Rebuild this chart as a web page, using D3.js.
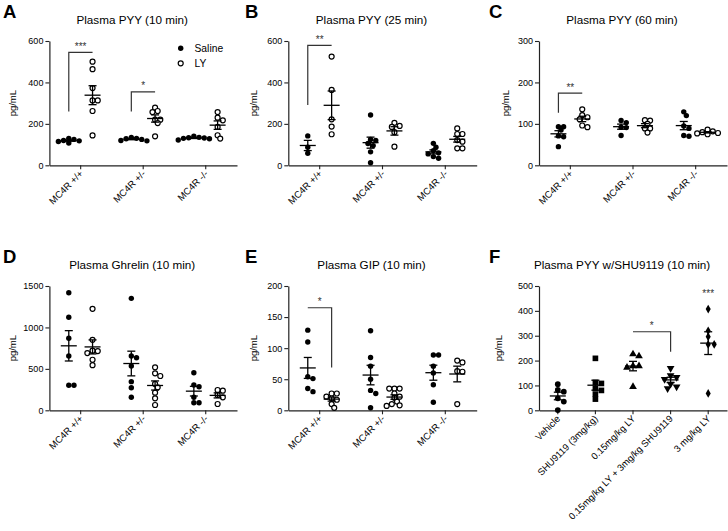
<!DOCTYPE html>
<html><head><meta charset="utf-8">
<script src="https://cdn.jsdelivr.net/npm/d3@7"></script>
<style>body{margin:0;background:#fff}svg{display:block;opacity:0.999}</style>
</head><body><svg id="c" width="728" height="531"></svg>
<script>
// ---------------- data ----------------
const genotypes = ["MC4R +/+", "MC4R +/-", "MC4R -/-"];
const seriesNames = ["Saline", "LY"];

const pyy10Saline = [[108,115,118,125,130,120],[130,128,120,118,125,135],[132,135,140,122,128,130,133]];
const pyy10LY     = [[464,500,373,313,313,262,144],[278,257,262,220,220,204,140],[257,230,217,185,129,145]];

const pyy25Saline = [[142,87,58],[243,125,120,105,95,65,12],[106,87,70,60,55,42,34]];
const pyy25LY     = [[525,364,222,187,150],[205,190,185,160,90],[178,151,151,122,114,82,82]];

const pyy60Saline = [[93,93,85,71,69,45],[108,103,72,92,91],[129,120,95,89,70,72]];
const pyy60LY     = [[135,121,116,111,92,96],[109,108,100,89,89,79],[86,82,78,75,80,77]];

const ghrelinSaline = [[1419,1122,869,655,302,302],[1351,655,635,535,346,273,157],[454,306,285,157,92,92]];
const ghrelinLY     = [[1225,850,720,715,690,610,545],[519,446,414,318,277,213,145,64],[237,245,185,157,76]];

const gipSaline = [[129,110,54,51,35,30],[128,85,71,50,32,27,4],[89,89,71,60,41,13]];
const gipLY     = [[27,27,22,19,17,10,4],[35,35,35,27,22,20,14,10,8,7],[80,77,63,62,10]];

const shuGroups = ["Vehicle", "SHU9119 (3mg/kg)", "0.15mg/kg LY", "0.15mg/kg LY + 3mg/kg SHU9119", "3 mg/kg LY"];
const shuValues = [[105,82,75,48,35,1],[209,112,108,88,80,65,45],[218,226,178,172,178,95],[169,140,133,125,106,95,88],[407,320,296,265,265,68]];

const ticksA = [0,200,400,600];
const ticksB = [0,200,400,600];
const ticksC = [0,100,200,300];
const ticksD = [0,500,1000,1500];
const ticksE = [0,50,100,150,200];
const ticksF = [0,100,200,300,400,500];

// significance brackets: group index, series of leg, leg bottom value, bar value, stars
const bracketsA = [{g:0, leg:"Saline", low:260, high:545, stars:"***"}, {g:1, leg:"Saline", low:260, high:354, stars:"*"}];
const bracketsB = [{g:0, leg:"Saline", low:291, high:579, stars:"**"}];
const bracketsC = [{g:0, leg:"Saline", low:127, high:174, stars:"**"}];
const bracketsE = [{g:0, leg:"LY", low:69, high:165, stars:"*"}];
const bracketsF = [{from:2, to:3, low:236, high:316, stars:"*"}];
const starsF = [{g:4, value:470, stars:"***"}];

// ---------------- drawing ----------------
const svg = d3.select("#c");
const FONT = '"Liberation Sans", Arial, Helvetica, sans-serif';
const INK = "#000";
const AX = "#222";

const panels = [
  {letter:"A", title:"Plasma PYY (10 min)", x0:49.4, x1:237, top:41, bottom:165.3, ticks:ticksA, cats:genotypes, series:[pyy10Saline, pyy10LY], labelX:12, letterX:3, letterY:18, titleY:23.5, legend:true, brackets:bracketsA},
  {letter:"B", title:"Plasma PYY (25 min)", x0:288.3, x1:476.7, top:41, bottom:165.3, ticks:ticksB, cats:genotypes, series:[pyy25Saline, pyy25LY], labelX:253, letterX:245, letterY:18, titleY:23.5, brackets:bracketsB},
  {letter:"C", title:"Plasma PYY (60 min)", x0:539, x1:727, top:41, bottom:165.3, ticks:ticksC, cats:genotypes, series:[pyy60Saline, pyy60LY], labelX:505, letterX:489, letterY:18, titleY:23.5, brackets:bracketsC},
  {letter:"D", title:"Plasma Ghrelin (10 min)", x0:49.4, x1:237, top:286, bottom:410.3, ticks:ticksD, cats:genotypes, series:[ghrelinSaline, ghrelinLY], labelX:12, letterX:3, letterY:263, titleY:268.5, brackets:[]},
  {letter:"E", title:"Plasma GIP (10 min)", x0:288.3, x1:476.7, top:286, bottom:410.3, ticks:ticksE, cats:genotypes, series:[gipSaline, gipLY], labelX:253, letterX:245, letterY:263, titleY:268.5, brackets:bracketsE},
  {letter:"F", title:"Plasma PYY w/SHU9119 (10 min)", x0:539, x1:727, top:286, bottom:410.3, ticks:ticksF, cats:shuGroups, single:shuValues, labelX:498, letterX:489, letterY:263, titleY:268.5, brackets:bracketsF}
];

function swarm(vals, y, cx, r){
  const placed = [];
  const order = vals.map(v => v).sort((a,b) => b - a);
  const step = r * 1.0, minD = 1.6 * r;
  order.forEach(v => {
    const py = y(v);
    let k = 0, px;
    while (true) {
      const off = k === 0 ? 0 : (k % 2 ? 1 : -1) * Math.ceil(k / 2) * step;
      px = cx + off;
      if (placed.every(p => Math.hypot(p.x - px, p.y - py) >= minD)) break;
      k++;
    }
    placed.push({x:px, y:py, v});
  });
  return placed;
}

function meanSem(vals){
  const m = d3.mean(vals);
  const s = d3.deviation(vals) / Math.sqrt(vals.length);
  return {m, s};
}

function drawErr(g, cx, y, vals){
  const {m, s} = meanSem(vals);
  const line = (x1,y1,x2,y2) => g.append("line").attr("x1",x1).attr("y1",y1).attr("x2",x2).attr("y2",y2).attr("stroke",INK).attr("stroke-width",1.3);
  line(cx-8, y(m), cx+8, y(m));
  line(cx, y(m-s), cx, y(m+s));
  line(cx-4, y(m-s), cx+4, y(m-s));
  line(cx-4, y(m+s), cx+4, y(m+s));
}

const shapeTypes = [d3.symbolCircle, d3.symbolSquare, d3.symbolTriangle, d3.symbolTriangle, d3.symbolDiamond];
const shapeSizes = [26, 32, 26, 26, 22];
const shapeRot = [0, 0, 0, 180, 0];

panels.forEach(p => {
  const g = svg.append("g");
  const y = d3.scaleLinear().domain([0, d3.max(p.ticks)]).range([p.bottom, p.top]);
  const x = d3.scaleBand().domain(p.cats).range([p.x0, p.x1]).padding(0);
  const bw = x.bandwidth();
  const cx = c => x(c) + bw / 2;
  const sub = d3.scalePoint().domain(seriesNames).range([-bw * 0.19, bw * 0.19]);

  // letter + title
  g.append("text").attr("x", p.letterX).attr("y", p.letterY).text(p.letter)
    .attr("font-family", FONT).attr("font-weight", "bold").attr("font-size", 18.5).attr("fill", "#000");
  g.append("text").attr("x", (p.x0 + p.x1) / 2 - 11).attr("y", p.titleY).attr("text-anchor", "middle")
    .text(p.title).attr("font-family", FONT).attr("font-size", 11.7).attr("fill", INK);

  // y axis
  const ya = g.append("g").attr("transform", `translate(${p.x0},0)`)
    .call(d3.axisLeft(y).tickValues(p.ticks).tickSize(4).tickPadding(2).tickSizeOuter(0).tickFormat(d3.format("d")));
  ya.select(".domain").attr("stroke", AX).attr("stroke-width", 1.2);
  ya.selectAll(".tick line").attr("stroke", AX).attr("stroke-width", 1.1);
  ya.selectAll(".tick text").attr("font-family", FONT).attr("font-size", 9).attr("fill", INK);
  g.append("text").attr("transform", `translate(${p.labelX},${(p.top + p.bottom) / 2}) rotate(-90)`)
    .attr("text-anchor", "middle").attr("dominant-baseline", "central").text("pg/mL")
    .attr("font-family", FONT).attr("font-size", 9.5).attr("fill", INK);

  // x axis
  const xa = g.append("g").attr("transform", `translate(0,${p.bottom})`)
    .call(d3.axisBottom(x).tickSize(4).tickSizeOuter(0));
  xa.select(".domain").attr("stroke", AX).attr("stroke-width", 1.2);
  xa.selectAll(".tick line").attr("stroke", AX).attr("stroke-width", 1.1);
  xa.selectAll(".tick text").attr("font-family", FONT).attr("font-size", 9.5).attr("fill", INK)
    .attr("text-anchor", "end").attr("dy", null).attr("y", null)
    .attr("transform", "translate(3,9) rotate(-45)");

  const data = g.append("g");
  if (p.series) {
    p.series.forEach((ser, si) => {
      ser.forEach((vals, gi) => {
        const c = cx(p.cats[gi]) + sub(seriesNames[si]);
        const pts = swarm(vals, y, c, 2.6);
        data.selectAll(null).data(pts).enter().append("circle")
          .attr("cx", d => d.x).attr("cy", d => d.y).attr("r", si === 0 ? 2.7 : 2.5)
          .attr("fill", si === 0 ? INK : "#fff").attr("stroke", INK).attr("stroke-width", si === 0 ? 0 : 1.2);
      });
    });
    p.series.forEach((ser, si) => ser.forEach((vals, gi) => drawErr(data, cx(p.cats[gi]) + sub(seriesNames[si]), y, vals)));
  } else {
    p.single.forEach((vals, gi) => {
      const c = cx(p.cats[gi]);
      const pts = swarm(vals, y, c, 3.0);
      const sym = d3.symbol().type(shapeTypes[gi]).size(shapeSizes[gi]);
      data.selectAll(null).data(pts).enter().append("path")
        .attr("d", sym).attr("transform", d => `translate(${d.x},${d.y}) rotate(${shapeRot[gi]})`).attr("fill", INK);
    });
    p.single.forEach((vals, gi) => drawErr(data, cx(p.cats[gi]), y, vals));
  }

  // brackets
  p.brackets.forEach(b => {
    if (b.g !== undefined) {
      const xs = cx(p.cats[b.g]) + sub("Saline"), xl = cx(p.cats[b.g]) + sub("LY");
      const legX = b.leg === "Saline" ? xs : xl;
      const path = d3.path();
      path.moveTo(legX, y(b.low)); path.lineTo(legX, y(b.high));
      path.lineTo(b.leg === "Saline" ? xl : xs, y(b.high));
      g.append("path").attr("d", path.toString()).attr("fill", "none").attr("stroke", "#333").attr("stroke-width", 1.2);
      g.append("text").attr("x", (xs + xl) / 2).attr("y", y(b.high) - 2.5).attr("text-anchor", "middle")
        .text(b.stars).attr("font-family", FONT).attr("font-size", 10).attr("fill", "#333");
    } else {
      const xa1 = cx(p.cats[b.from]), xb = cx(p.cats[b.to]);
      const path = d3.path();
      path.moveTo(xa1, y(b.high)); path.lineTo(xb, y(b.high)); path.lineTo(xb, y(b.low));
      g.append("path").attr("d", path.toString()).attr("fill", "none").attr("stroke", "#333").attr("stroke-width", 1.2);
      g.append("text").attr("x", (xa1 + xb) / 2).attr("y", y(b.high) - 2.5).attr("text-anchor", "middle")
        .text(b.stars).attr("font-family", FONT).attr("font-size", 10).attr("fill", "#333");
    }
  });
  if (p.letter === "F") {
    starsF.forEach(s => g.append("text").attr("x", cx(p.cats[s.g])).attr("y", y(s.value) + 4).attr("text-anchor", "middle")
      .text(s.stars).attr("font-family", FONT).attr("font-size", 10).attr("fill", "#333"));
  }

  if (p.legend) {
    const lg = g.append("g");
    seriesNames.forEach((n, i) => {
      const ly = 48.3 + i * 15;
      lg.append("circle").attr("cx", 180.7).attr("cy", ly).attr("r", i === 0 ? 2.7 : 2.5)
        .attr("fill", i === 0 ? INK : "#fff").attr("stroke", INK).attr("stroke-width", i === 0 ? 0 : 1.2);
      lg.append("text").attr("x", 194.5).attr("y", ly + 3.6).text(n)
        .attr("font-family", FONT).attr("font-size", 10.3).attr("fill", INK);
    });
  }
});
</script></body></html>
